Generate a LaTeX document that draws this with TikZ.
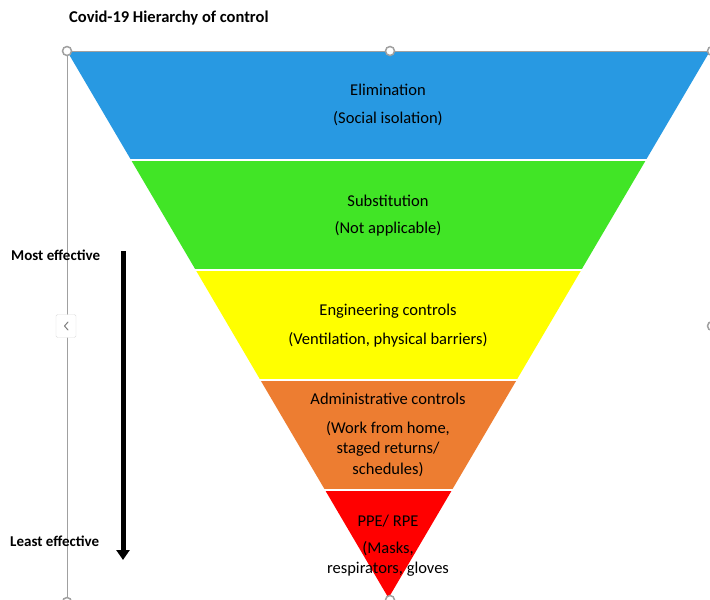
\documentclass[tikz,border=0pt]{standalone}
\usepackage{fontspec}
\setmainfont{Carlito}
\usetikzlibrary{arrows.meta}
\definecolor{bandblue}{HTML}{2899E2}
\definecolor{bandgreen}{HTML}{41E526}
\definecolor{bandyellow}{HTML}{FFFF00}
\definecolor{bandorange}{HTML}{ED7D31}
\definecolor{bandred}{HTML}{FF0000}
\definecolor{selgray}{HTML}{A0A0A0}
\tikzset{
  bandtext/.style={font=\fontsize{16.5}{20.5}\selectfont, align=center, inner sep=0pt},
  sidelabel/.style={font=\bfseries\fontsize{15}{16}\selectfont, anchor=west, inner sep=0pt},
  handle/.style={circle, draw=selgray, fill=white, line width=1.5pt, minimum size=9pt, inner sep=0pt},
  selline/.style={draw=selgray, line width=0.8pt},
}
\begin{document}
\begin{tikzpicture}[x=1pt,y=-1pt]
\useasboundingbox (0,0) rectangle (710,600);
\fill[white] (0,0) rectangle (710,600);
\coordinate (A) at (67,51);
\coordinate (B) at (710,51);
\coordinate (C) at (388.5,598);
\begin{scope}
  \clip (A) -- (B) -- (C) -- cycle;
  \fill[bandblue] (0,51) rectangle (710,158.5);
  \fill[bandgreen] (0,160.5) rectangle (710,268.5);
  \fill[bandyellow] (0,270.5) rectangle (710,378.5);
  \fill[bandorange] (0,380.5) rectangle (710,488.5);
  \fill[bandred] (0,490.5) rectangle (710,600);
\end{scope}
% selection frame
\coordinate (BL) at (67,602);
\draw[selline] (A) -- (B);
\draw[selline] (A) -- (BL);
\node[handle] (h1) at (A) {};
\node[handle] (h2) at (390,51) {};
\node[handle] (h3) at (712,51) {};
\node[handle] (h4) at (712,326) {};
\node[handle] (h5) at (67,602) {};
\node[handle] (h6) at (390,600) {};
\node[draw=black!13, fill=white, rounded corners=1.5pt, minimum width=20pt, minimum height=23pt, inner sep=0pt] (collapse) at (66,326) {};
\draw[black!50, line width=1pt, line cap=round, line join=round] ([shift={(2,-4)}]collapse.center) -- ([shift={(-1.5,0)}]collapse.center) -- ([shift={(2,4)}]collapse.center);
% title
\node[font=\bfseries\fontsize{16.5}{18}\selectfont, anchor=west, inner sep=0pt] (title) at (69,18) {Covid-19 Hierarchy of control};
% band texts
\node[bandtext] (t1a) at (388,90) {Elimination};
\node[bandtext] (t1b) at (388,118.5) {(Social isolation)};
\node[bandtext] (t2a) at (388,200.5) {Substitution};
\node[bandtext] (t2b) at (388,229) {(Not applicable)};
\node[bandtext] (t3a) at (388,311) {Engineering controls};
\node[bandtext] (t3b) at (388,339.5) {(Ventilation, physical barriers)};
\node[bandtext] (t4a) at (388,399) {Administrative controls};
\node[bandtext] (t4b) at (388,449) {(Work from home,\\staged returns/\\schedules)};
\node[bandtext] (t5a) at (388,521.5) {PPE/ RPE};
\node[bandtext] (t5b) at (388,559) {(Masks,\\respirators, gloves};
% side labels
\node[sidelabel] (most) at (11,255.5) {Most effective};
\node[sidelabel] (least) at (10,541.5) {Least effective};
\coordinate (ar1) at (123,251);
\coordinate (ar2) at (123,560);
\draw[line width=5pt, -{Triangle[width=13pt,length=10pt]}] (ar1) -- (ar2);
\end{tikzpicture}
\end{document}
